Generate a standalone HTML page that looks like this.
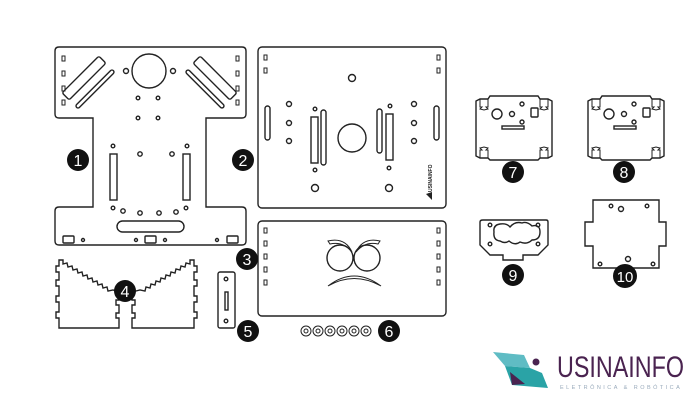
<!DOCTYPE html>
<html><head><meta charset="utf-8"><style>
html,body{margin:0;padding:0;background:#fff;width:700px;height:400px;overflow:hidden}
svg{display:block}
</style></head><body>
<svg width="700" height="400" viewBox="0 0 700 400" xmlns="http://www.w3.org/2000/svg" font-family="Liberation Sans, sans-serif">
<g fill="none" stroke="#222" stroke-width="1.4">
<!-- Part 1 -->
<path d="M59,47 H242 Q246,47 246,51 V114 Q246,118 242,118 H206 V207 H242 Q246,207 246,211 V241 Q246,245 242,245 H59 Q55,245 55,241 V211 Q55,207 59,207 H93 V118 H59 Q55,118 55,114 V51 Q55,47 59,47 Z"/>
<circle cx="149" cy="71" r="17"/>
<circle cx="126" cy="71" r="2.5"/><circle cx="173" cy="71" r="2.5"/>
<circle cx="138" cy="98" r="1.8"/><circle cx="158" cy="98" r="1.8"/>
<circle cx="138" cy="118" r="1.8"/><circle cx="158" cy="118" r="1.8"/>
<g stroke-width="1">
<rect x="62" y="56" width="3" height="5"/><rect x="62" y="71" width="3" height="5"/><rect x="62" y="86" width="3" height="5"/><rect x="62" y="100" width="3" height="5"/>
<rect x="236" y="56" width="3" height="5"/><rect x="236" y="71" width="3" height="5"/><rect x="236" y="86" width="3" height="5"/><rect x="236" y="100" width="3" height="5"/>
</g>
<rect x="-26" y="-5" width="52" height="10" rx="2" transform="translate(84,78) rotate(-45)"/>
<rect x="-26" y="-2" width="52" height="4" rx="2" transform="translate(95,89) rotate(-45)"/>
<rect x="-26" y="-5" width="52" height="10" rx="2" transform="translate(215,78) rotate(45)"/>
<rect x="-26" y="-2" width="52" height="4" rx="2" transform="translate(205,89) rotate(45)"/>
<rect x="110" y="154" width="7" height="46"/><rect x="183" y="154" width="7" height="46"/>
<circle cx="113" cy="146" r="1.8"/><circle cx="187" cy="146" r="1.8"/>
<circle cx="140" cy="154" r="2.2"/><circle cx="172" cy="154" r="2.2"/>
<circle cx="113" cy="208" r="1.8"/><circle cx="123" cy="211" r="2.2"/><circle cx="140" cy="213" r="2.2"/><circle cx="159" cy="213" r="2.2"/><circle cx="176" cy="212" r="2.2"/><circle cx="186" cy="208" r="1.8"/>
<rect x="117" y="221" width="67" height="11" rx="5.5"/>
<rect x="63" y="236" width="11" height="7" rx="1"/><rect x="145" y="236" width="11" height="7" rx="1"/><rect x="227" y="236" width="11" height="7" rx="1"/>
<circle cx="83" cy="240" r="1.5"/><circle cx="136" cy="240" r="1.5"/><circle cx="165" cy="240" r="1.5"/><circle cx="217" cy="240" r="1.5"/>

<!-- Part 2 -->
<rect x="258" y="47" width="188" height="161" rx="4"/>
<g stroke-width="1">
<rect x="264" y="55" width="3" height="5"/><rect x="264" y="68" width="3" height="5"/>
<rect x="437" y="55" width="3" height="5"/><rect x="437" y="68" width="3" height="5"/>
</g>
<circle cx="352" cy="78" r="3.5"/>
<rect x="265" y="106" width="5" height="34" rx="2.5"/><rect x="434" y="106" width="5" height="34" rx="2.5"/>
<circle cx="289" cy="104" r="2.5"/><circle cx="289" cy="123" r="2.5"/><circle cx="289" cy="141" r="2.5"/>
<circle cx="414" cy="104" r="2.5"/><circle cx="414" cy="123" r="2.5"/><circle cx="414" cy="141" r="2.5"/>
<circle cx="315" cy="109" r="1.8"/><circle cx="390" cy="106" r="1.8"/>
<rect x="311" y="117" width="7" height="46"/><rect x="321" y="110" width="5" height="55" rx="2.5"/>
<rect x="377" y="109" width="5" height="44" rx="2.5"/><rect x="386" y="114" width="7" height="46"/>
<circle cx="352" cy="138" r="14"/>
<circle cx="315" cy="170" r="1.8"/><circle cx="389" cy="168" r="1.8"/>
<circle cx="315" cy="188" r="3.5"/><circle cx="389" cy="188" r="3.5"/>

<!-- Part 3 -->
<rect x="258" y="221" width="188" height="95" rx="4"/>
<g stroke-width="1">
<rect x="264" y="228" width="3" height="5"/><rect x="264" y="241" width="3" height="5"/><rect x="264" y="254" width="3" height="5"/><rect x="264" y="267" width="3" height="5"/><rect x="264" y="280" width="3" height="5"/>
<rect x="437" y="228" width="3" height="5"/><rect x="437" y="241" width="3" height="5"/><rect x="437" y="254" width="3" height="5"/><rect x="437" y="267" width="3" height="5"/><rect x="437" y="280" width="3" height="5"/>
</g>
<circle cx="340" cy="258" r="13"/><circle cx="367" cy="258" r="13"/>
<path d="M328,241 Q345,237 352,252 Q343,241 330,244 Z" stroke-width="1"/>
<path d="M380,241 Q363,237 356,252 Q365,241 378,244 Z" stroke-width="1"/>
<path d="M328,286 Q354,266 381,286 Q354,271 328,286 Z" stroke-width="1"/>

<!-- Part 4 -->
<path d="M59,260 L63,260 L63,264 L67,263 L68,267 L72,266 L73,270 L77,269 L78,273 L82,272 L83,276 L87,275 L88,279 L92,278 L93,282 L97,281 L98,285 L102,284 L103,288 L107,287 L108,291 L113,290 L119,292 L119,300 L116,300 L116,305 L119,305 L119,313 L116,313 L116,318 L119,318 L119,328 L59,328 L59,318 L56,318 L56,312 L59,312 L59,302 L56,302 L56,296 L59,296 L59,286 L56,286 L56,280 L59,280 L59,272 L56,272 L56,266 L59,266 Z"/>
<path d="M194,260 L190,260 L190,264 L186,263 L185,267 L181,266 L180,270 L176,269 L175,273 L171,272 L170,276 L166,275 L165,279 L161,278 L160,282 L156,281 L155,285 L151,284 L150,288 L146,287 L145,291 L140,290 L132,292 L132,300 L135,300 L135,305 L132,305 L132,313 L135,313 L135,318 L132,318 L132,328 L194,328 L194,318 L197,318 L197,312 L194,312 L194,302 L197,302 L197,296 L194,296 L194,286 L197,286 L197,280 L194,280 L194,272 L197,272 L197,266 L194,266 Z"/>

<!-- Part 5 -->
<rect x="218" y="272" width="17" height="56" rx="2"/>
<circle cx="226" cy="279" r="1.8"/><circle cx="226" cy="321" r="1.8"/>
<rect x="225" y="292" width="3" height="18"/>

<!-- Part 6 -->
<g stroke-width="1">
<circle cx="306" cy="331" r="5"/><circle cx="306" cy="331" r="2"/>
<circle cx="318" cy="331" r="5"/><circle cx="318" cy="331" r="2"/>
<circle cx="330" cy="331" r="5"/><circle cx="330" cy="331" r="2"/>
<circle cx="342" cy="331" r="5"/><circle cx="342" cy="331" r="2"/>
<circle cx="354" cy="331" r="5"/><circle cx="354" cy="331" r="2"/>
<circle cx="366" cy="331" r="5"/><circle cx="366" cy="331" r="2"/>
</g>

<!-- Part 7 & 8 -->
<g id="p7">
<path d="M490,96 H538 L540,99 H548 L552,101 V156 L548,158 H540 L538,160 H490 L488,158 H480 L476,156 V101 L480,99 H488 Z"/>
<path d="M480,99 V107 H482 L480,109 L484,110 L488,109 L486,107 H488 V99" stroke-width="1"/>
<path d="M540,99 V107 H542 L540,109 L544,110 L548,109 L546,107 H548 V99" stroke-width="1"/>
<path d="M480,158 V150 H482 L480,148 L484,147 L488,148 L486,150 H488 V158" stroke-width="1"/>
<path d="M540,158 V150 H542 L540,148 L544,147 L548,148 L546,150 H548 V158" stroke-width="1"/>
<circle cx="497" cy="114" r="5"/><circle cx="512" cy="114" r="2.5"/><circle cx="522" cy="104" r="2"/>
<rect x="531" y="108" width="7" height="9" rx="1"/>
<rect x="502" y="126" width="22" height="3"/><circle cx="522" cy="122" r="2"/>
</g>
<use href="#p7" x="112"/>

<!-- Part 9 -->
<path d="M483,220 H546 Q548,220 548,222 V245 L538,255 H523 V260 H503 V255 H490 L480,245 V222 Q480,220 483,220 Z"/>
<path d="M494,232 Q493,225 500,224 Q507,223 510,227 Q515,221 522,223 Q527,221 532,226 Q540,224 540,232 Q540,240 532,240 Q527,245 520,242 Q515,246 509,241 Q505,244 500,241 Q493,240 494,232 Z"/>
<circle cx="490" cy="225" r="1.8"/><circle cx="538" cy="225" r="1.8"/><circle cx="490" cy="244" r="1.8"/><circle cx="538" cy="244" r="1.8"/>

<!-- Part 10 -->
<path d="M593,200 H659 V222 H666 V246 H659 V268 H593 V246 H585 V222 H593 Z"/>
<circle cx="611" cy="206" r="1.8"/><circle cx="621" cy="209" r="2.5"/><circle cx="647" cy="206" r="1.8"/>
<circle cx="600" cy="264" r="1.8"/><circle cx="628" cy="259" r="2.5"/><circle cx="653" cy="264" r="1.8"/>
</g>
<text x="0" y="0" font-size="5" font-weight="bold" fill="#222" transform="translate(432,192) rotate(-90)">USINAINFO</text>
<path d="M426,194 L432,192 L432,200 Z" fill="#222"/>

<!-- Labels -->
<g fill="#111">
<circle cx="78" cy="160" r="11"/><circle cx="243" cy="160" r="11"/><circle cx="247" cy="259" r="11"/>
<circle cx="125" cy="291" r="11"/><circle cx="248" cy="331" r="11"/><circle cx="389" cy="331" r="11"/>
<circle cx="513" cy="172" r="11"/><circle cx="624" cy="172" r="11"/><circle cx="513" cy="275" r="11"/><circle cx="625" cy="276" r="12"/>
</g>
<g fill="#fff" font-size="16" text-anchor="middle">
<text x="78" y="166">1</text><text x="243" y="166">2</text><text x="247" y="265">3</text>
<text x="125" y="297">4</text><text x="248" y="337">5</text><text x="389" y="337">6</text>
<text x="513" y="178">7</text><text x="624" y="178">8</text><text x="513" y="281">9</text><text x="625" y="282" font-size="15">10</text>
</g>

<!-- Logo -->
<path d="M493,352 L524,355 L530,368 L505,366 Z" fill="#5fbcc4"/>
<path d="M505,366 L530,368 L542,373 L548,388 L512,385 Z" fill="#2aa3a6"/>
<path d="M510,372 L525,384 L512,385 Z" fill="#4a2350"/>
<circle cx="536" cy="362" r="3.5" fill="#4a2350"/>
<text x="557" y="377" font-size="30" fill="#4a2350" textLength="127" lengthAdjust="spacingAndGlyphs">USINAINFO</text>
<text x="560" y="389" font-size="5.5" fill="#9ab" letter-spacing="2.2" textLength="122" lengthAdjust="spacing">ELETRÔNICA &amp; ROBÓTICA</text>
</svg>
</body></html>
